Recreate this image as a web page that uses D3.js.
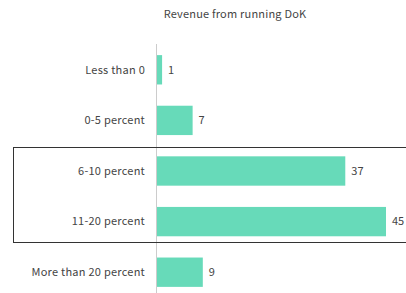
<!DOCTYPE html>
<html><head><meta charset="utf-8">
<script src="https://cdn.jsdelivr.net/npm/d3@7"></script>
<style>body{margin:0;background:#fff}svg{display:block}</style>
</head><body>
<svg id="c" width="406" height="293"></svg>
<script>
const categories = ["Less than 0","0-5 percent","6-10 percent","11-20 percent","More than 20 percent"];
const values = [1,7,37,45,9];
const title = "Revenue from running DoK";
const highlighted = ["6-10 percent","11-20 percent"];

const svg = d3.select("#c");
const font = "'Noto Sans CJK JP', 'Noto Sans', sans-serif";
const x = d3.scaleLinear().domain([0,45]).range([157,386]);
const y = d3.scaleBand().domain(categories).range([45,297]).paddingInner(0.42).paddingOuter(0.2);

svg.append("text").attr("x",235).attr("y",18).attr("text-anchor","middle")
  .attr("font-family",font).attr("font-size",11).attr("letter-spacing",0.2).attr("fill","#444").text(title);

svg.append("line").attr("x1",x(0)-0.5).attr("x2",x(0)-0.5).attr("y1",44).attr("y2",293)
  .attr("stroke","#ccc").attr("stroke-width",1);

svg.selectAll("rect.bar").data(categories).join("rect").attr("class","bar")
  .attr("x",x(0)).attr("y",d=>y(d)).attr("height",y.bandwidth())
  .attr("width",(d,i)=>x(values[i])-x(0)).attr("fill","#67dab9");

svg.selectAll("text.cat").data(categories).join("text").attr("class","cat")
  .attr("x",145).attr("y",d=>y(d)+y.bandwidth()/2).attr("dy","0.35em")
  .attr("text-anchor","end").attr("font-family",font).attr("font-size",11).attr("letter-spacing",0.25)
  .attr("fill","#444").text(d=>d);

svg.selectAll("text.val").data(categories).join("text").attr("class","val")
  .attr("x",(d,i)=>x(values[i])+6).attr("y",d=>y(d)+y.bandwidth()/2).attr("dy","0.35em")
  .attr("font-family",font).attr("font-size",11).attr("fill","#444").text((d,i)=>values[i]);

const hy0 = Math.round(y(highlighted[0]) - 9);
const hy1 = Math.round(y(highlighted[1]) + y.bandwidth() + 6);
svg.append("rect").attr("x",13.5).attr("y",hy0+0.5).attr("width",420)
  .attr("height",hy1-hy0).attr("fill","none").attr("stroke","#333").attr("stroke-width",1);
</script>
</body></html>
